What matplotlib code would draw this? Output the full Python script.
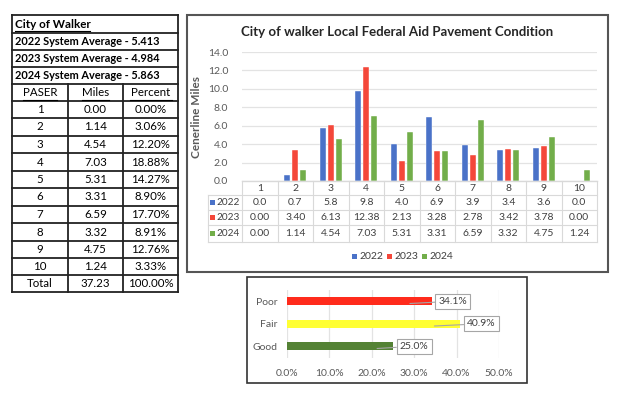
import numpy as np
import matplotlib
matplotlib.use("Agg")
import matplotlib.pyplot as plt
from matplotlib.patches import Rectangle
from matplotlib.lines import Line2D
import matplotlib.transforms as mtransforms

plt.rcParams['font.family'] = ['Lato', 'DejaVu Sans']

# ---- data ----
paser = ["1", "2", "3", "4", "5", "6", "7", "8", "9", "10"]
miles = ["0.00", "1.14", "4.54", "7.03", "5.31", "3.31", "6.59", "3.32", "4.75", "1.24"]
percent = ["0.00%", "3.06%", "12.20%", "18.88%", "14.27%", "8.90%", "17.70%", "8.91%", "12.76%", "3.33%"]
total_miles, total_pct = "37.23", "100.00%"
averages = ["2022 System Average - 5.413", "2023 System Average - 4.984", "2024 System Average - 5.863"]

years = ["2022", "2023", "2024"]
v2022 = [0.0, 0.7, 5.8, 9.8, 4.0, 6.9, 3.9, 3.4, 3.6, 0.0]
v2023 = [0.00, 3.40, 6.13, 12.38, 2.13, 3.28, 2.78, 3.42, 3.78, 0.00]
v2024 = [0.00, 1.14, 4.54, 7.03, 5.31, 3.31, 6.59, 3.32, 4.75, 1.24]
lbl2022 = ["0.0", "0.7", "5.8", "9.8", "4.0", "6.9", "3.9", "3.4", "3.6", "0.0"]
lbl2023 = ["0.00", "3.40", "6.13", "12.38", "2.13", "3.28", "2.78", "3.42", "3.78", "0.00"]
lbl2024 = ["0.00", "1.14", "4.54", "7.03", "5.31", "3.31", "6.59", "3.32", "4.75", "1.24"]

cond = ["Good", "Fair", "Poor"]
cond_pct = [25.0, 40.9, 34.1]

W, H = 624, 396
fig = plt.figure(figsize=(W / 100, H / 100), dpi=100)

def fx(px): return px / W
def fy(py): return 1 - py / H
def axbox(l, t, r, b): return [l / W, 1 - b / H, (r - l) / W, (b - t) / H]

def hline(x0, x1, y, c="black", lw=1.0):
    fig.add_artist(Line2D([fx(x0), fx(x1)], [fy(y), fy(y)], color=c, lw=lw))

def vline(x, y0, y1, c="black", lw=1.0):
    fig.add_artist(Line2D([fx(x), fx(x)], [fy(y0), fy(y1)], color=c, lw=lw))

# ---- left table ----
tl, tr, tt, tb = 12, 178, 15, 292
rows = [15, 33, 50, 67, 84, 101, 118, 136, 153, 171, 188, 206, 223, 241, 258, 275, 292]
for y in rows:
    hline(tl, tr, y, c="#222222", lw=1.3)
vline(tl, tt, tb, c="#222222", lw=1.3)
vline(tr, tt, tb, c="#222222", lw=1.3)
for x in (68, 123):
    vline(x, 84, tb, c="#222222", lw=1.3)

fig.text(fx(15), fy(24), "City of Walker", fontsize=8.4, fontweight="bold", va="center")
hline(15, 90, 31, lw=0.8)
for i, s in enumerate(averages):
    fig.text(fx(15), fy(41.5 + 17 * i), s, fontsize=7.9, fontweight="bold", va="center")
colc = [40, 95.5, 150.5]
for c, s, w in zip(colc, ["PASER", "Miles", "Percent"], [34, 27, 42]):
    fig.text(fx(c), fy(92.5), s, fontsize=8.3, ha="center", va="center")
    hline(c - w / 2, c + w / 2, 99.5, lw=0.8)
for i in range(10):
    y = (rows[5 + i] + rows[6 + i]) / 2
    for c, s in zip(colc, [paser[i], miles[i], percent[i]]):
        fig.text(fx(c), fy(y), s, fontsize=8.3, ha="center", va="center")
for c, s in zip(colc, ["Total", total_miles, total_pct]):
    fig.text(fx(c), fy(283.5), s, fontsize=8.3, ha="center", va="center")

# ---- main column chart ----
fig.add_artist(Rectangle((fx(187), fy(272)), fx(608 - 187), (272 - 15) / H,
                         fill=False, ec="#555555", lw=1.5))
ax = fig.add_axes(axbox(242, 52, 597, 181))
x = np.arange(len(paser))
cols = ["#4A72C8", "#F4473A", "#72AE4A"]
bw = 0.17
for k, (vals, c) in enumerate(zip([v2022, v2023, v2024], cols)):
    ax.bar(x + (k - 1) * 0.225, vals, bw, color=c, ec="white", lw=0.3, zorder=3)
ax.set_xlim(-0.5, 9.5)
ax.set_ylim(0, 14)
ax.set_yticks(np.arange(0, 14.1, 2))
ax.set_yticklabels([f"{v:.1f}" for v in np.arange(0, 14.1, 2)], fontsize=7.5, color="#595959")
ax.yaxis.grid(True, color="#E3E3E3", lw=0.9)
ax.set_xticks([])
ax.tick_params(axis="y", length=0, pad=10)
for s in ax.spines.values():
    s.set_visible(False)
ax.set_ylabel("Cenerline Miles", fontsize=8.5, fontweight="bold", color="#595959", labelpad=4)
fig.text(fx(397), fy(32), "City of walker Local Federal Aid Pavement Condition",
         fontsize=9.5, fontweight="bold", ha="center", va="center", color="#262626")

# data table under the chart
bt = mtransforms.blended_transform_factory(ax.transData, fig.transFigure)
grid_c = "#D9D9D9"
hline(242, 597, 181, c="#D9D9D9")
for y in (195, 210, 225, 242):
    hline(208, 597, y, c=grid_c, lw=0.8)
for i in range(11):
    xx = ax.transData.transform((i - 0.5, 0))[0]
    vline(xx, 181, 242, c=grid_c, lw=0.8)
vline(208, 195, 242, c=grid_c, lw=0.8)
for i, p in enumerate(paser):
    ax.text(i, fy(188.5), p, transform=bt, fontsize=7.5, ha="center", va="center", color="#404040")
for r, (yr, lbls, c) in enumerate(zip(years, [lbl2022, lbl2023, lbl2024], cols)):
    yc = [202.5, 217.5, 233.5][r]
    fig.add_artist(Rectangle((fx(210), fy(yc + 2.5)), fx(4.5), 5 / H, color=c, lw=0))
    fig.text(fx(216), fy(yc), yr, fontsize=7.2, va="center", color="#404040")
    for i, s in enumerate(lbls):
        ax.text(i, fy(yc), s, transform=bt, fontsize=7.5, ha="center", va="center", color="#404040")
# legend
for k, (yr, c) in enumerate(zip(years, cols)):
    x0 = 352 + k * 35
    fig.add_artist(Rectangle((fx(x0), fy(259)), fx(5), 5 / H, color=c, lw=0))
    fig.text(fx(x0 + 7), fy(256.5), yr, fontsize=7.5, va="center", color="#404040")

# ---- condition bar chart ----
fig.add_artist(Rectangle((fx(247), fy(383)), fx(527 - 247), (383 - 277) / H,
                         fill=False, ec="#333333", lw=1.2))
ax2 = fig.add_axes(axbox(287, 290, 499, 357.5))
ccols = ["#548235", "#FFFF33", "#FF2B1C"]
yy = np.arange(len(cond))
ax2.barh(yy, cond_pct, 0.36, color=ccols, zorder=3)
ax2.set_xlim(0, 50)
ax2.set_ylim(-0.5, 2.5)
ax2.set_xticks(np.arange(0, 50.1, 10))
ax2.set_xticklabels([f"{v:.1f}%" for v in np.arange(0, 50.1, 10)], fontsize=7.5, color="#595959")
ax2.set_yticks(yy)
ax2.set_yticklabels(cond, fontsize=7.5, color="#595959")
ax2.xaxis.grid(True, color="#E3E3E3", lw=0.9)
ax2.tick_params(axis="x", length=0, pad=8)
ax2.tick_params(axis="y", length=0, pad=7)
for s in ax2.spines.values():
    s.set_visible(False)
for yv, v in zip(yy, cond_pct):
    ax2.annotate(f"{v:.1f}%", xy=(v * 0.85, yv - 0.1), xytext=(v + 1.6, yv),
                 fontsize=7.5, color="#404040", va="center", ha="left",
                 bbox=dict(boxstyle="square,pad=0.3", fc="white", ec="#A6A6A6", lw=0.8),
                 arrowprops=dict(arrowstyle="-", color="#A6A6A6", lw=0.8,
                                 shrinkA=0, shrinkB=0), zorder=5)

fig.savefig("out.png", dpi=100)
